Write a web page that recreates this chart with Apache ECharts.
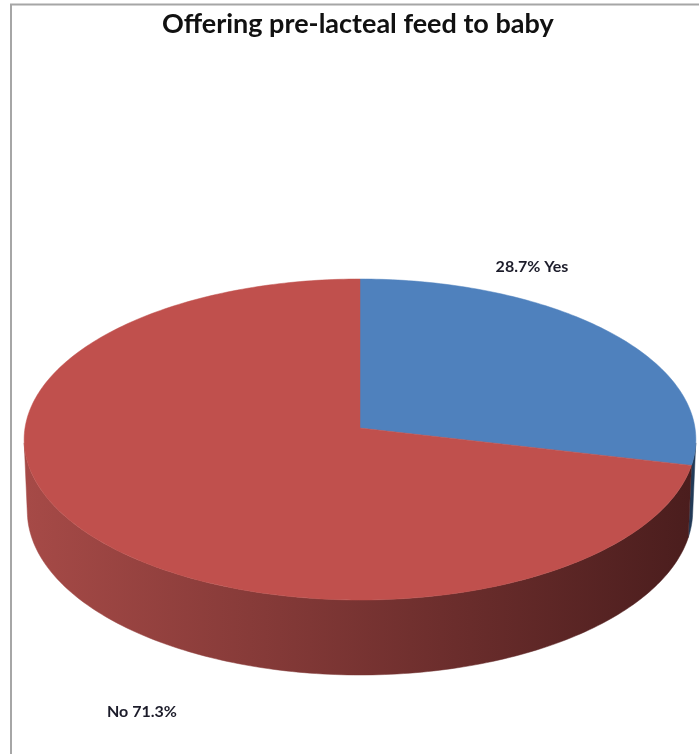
<!DOCTYPE html>
<html><head><meta charset="utf-8">
<script src="https://cdn.jsdelivr.net/npm/echarts@6/dist/echarts.min.js"></script>
<style>html,body{margin:0;padding:0;background:#fff}#c{width:699px;height:754px}</style>
</head><body><div id="c"></div>
<script>
const categories = ['Yes', 'No'];
const values = [28.7, 71.3];
const titleText = 'Offering pre-lacteal feed to baby';

const topColors = ['#4f81bd', '#c0504d'];
const sideColors = [['#3d6595', '#223a57'], ['#a64a47', '#4a1d1d']];
// perspective pie view (screen layout)
const view = {cx: 360, cy: 428, halfW: 335, up: 149, down: 172, sideDown: 247, start: -90};
const labelPos = [[532, 267], [142, 712]];

// derive a perspective camera from the view
const kk = (view.down / view.up - 1) / (view.down / view.up + 1);
const sinPhi = view.up * (1 + kk) / view.halfW, cosPhi = Math.sqrt(1 - sinPhi * sinPhi);
const D = cosPhi / kk, F = view.halfW * D;
const H = (view.sideDown * (D - cosPhi) - F * sinPhi) / (F * cosPhi - view.sideDown * sinPhi);
const tangentDeg = Math.asin(1 / (D * cosPhi)) * 180 / Math.PI;

const total = values.reduce((a, b) => a + b, 0);
function pt(deg, h) {
  const t = deg * Math.PI / 180, s = Math.sin(t), c = Math.cos(t);
  const depth = D + h * sinPhi - s * cosPhi;
  return [view.cx + F * c / depth, view.cy + F * (h * cosPhi + s * sinPhi) / depth];
}
function arc(a0, a1, h) {
  const n = Math.max(2, Math.ceil(Math.abs(a1 - a0)));
  const r = [];
  for (let i = 0; i <= n; i++) r.push(pt(a0 + (a1 - a0) * i / n, h));
  return r;
}

function renderItem(params, api) {
  const i = params.dataIndex;
  let before = 0;
  for (let k = 0; k < i; k++) before += values[k];
  const v = api.value(0);
  const a0 = view.start + before / total * 360, a1 = a0 + v / total * 360;
  const children = [];
  const s = Math.max(a0, tangentDeg), e = Math.min(a1, 180 - tangentDeg);
  if (e > s) {
    const pts = arc(s, e, 0).concat(arc(e, s, H));
    const grad = new echarts.graphic.LinearGradient(view.cx - view.halfW, 0, view.cx + view.halfW, 0,
      [{offset: 0, color: sideColors[i][0]}, {offset: 1, color: sideColors[i][1]}], true);
    children.push({type: 'polygon', shape: {points: pts}, style: {fill: grad, stroke: grad, lineWidth: 0.5}});
  }
  children.push({type: 'polygon', shape: {points: [[view.cx, view.cy]].concat(arc(a0, a1, 0))},
    style: {fill: topColors[i], stroke: topColors[i], lineWidth: 0.5}});
  const mid = (a0 + a1) / 2 * Math.PI / 180;
  const name = categories[i];
  const txt = Math.cos(mid) >= 0 ? v + '% ' + name : name + ' ' + v + '%';
  children.push({type: 'text', style: {text: txt, x: labelPos[i][0], y: labelPos[i][1],
    align: 'center', verticalAlign: 'middle', font: 'bold 16px Lato', fill: '#1c1c2a'}});
  return {type: 'group', children};
}

const chart = echarts.init(document.getElementById('c'), null, {renderer: 'canvas'});
chart.setOption({
  animation: false,
  backgroundColor: '#fff',
  title: {text: titleText, left: 157, top: 6,
    textStyle: {fontFamily: 'Lato', fontWeight: 'bold', fontSize: 27, color: '#111'}},
  graphic: [
    {type: 'polyline', shape: {points: [[11, 754], [11, 4.5], [699, 4.5]]},
      style: {stroke: '#a6a6a6', lineWidth: 2, fill: null}}
  ],
  series: [{type: 'custom', coordinateSystem: 'none', renderItem, data: values}]
});
</script></body></html>
